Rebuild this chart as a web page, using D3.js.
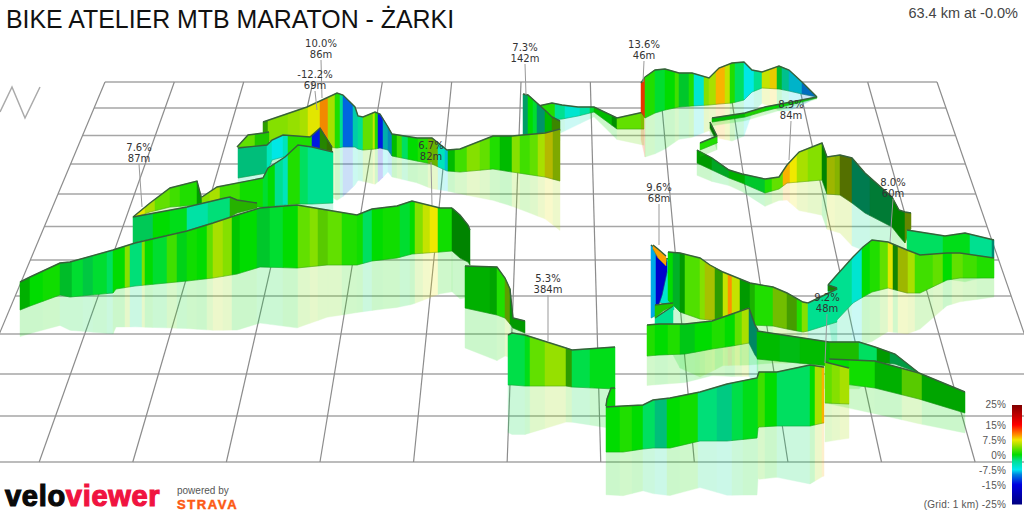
<!DOCTYPE html>
<html><head><meta charset="utf-8">
<script src="https://cdn.jsdelivr.net/npm/d3@7"></script>
<style>html,body{margin:0;padding:0;background:#fff;overflow:hidden}svg{display:block}</style>
</head><body><svg id="c" width="1024" height="512"></svg>
<script>
// ---- text ----
const titleText = "BIKE ATELIER MTB MARATON - ŻARKI";
const summaryText = "63.4 km at -0.0%";
// ---- grid ----
const gridRows = [82,108,135.5,164,194,226.5,260,296,334,374,416,462];
const gridCols = [0,1,2,3,4,5,6,7,8,9,10,11,12];
const zigX = [0,12,25,40], zigY = [112,87,118,87];
// ---- gradient legend ----
const legendTicks = [25,15,7.5,0,-7.5,-15,-25];
const legendLabels = ["25%","15%","7.5%","0%","-7.5%","-15%","(Grid: 1 km) -25%"];
const gradeDomain = [-25,-15,-10,-7.5,-3,0,2.5,5,7.5,10,15,25];
const gradeColours = ["#00007f","#0000e0","#0080e0","#00e8f0","#00e090","#00dc00","#50e000","#a8e000","#f0e800","#ff9000","#ff0000","#7f0000"];
// ---- climb labels ----
const climbGrade = ["10.0%","-12.2%","7.6%","6.7%","7.3%","13.6%","8.9%","8.0%","9.6%","5.3%","9.2%"];
const climbLength = ["86m","69m","87m","82m","142m","46m","84m","60m","68m","384m","48m"];
const climbX = [321,315,139,431,525,644,791,893,659,548,827];
const climbY = [47,78,151,149,51,48,108,186,191,282,301];
const climbEndX = [322,317,142,432,526,643,789,890,659,548,825];
const climbEndY = [98,110,207,205,95,82,160,242,245,341,363];
// ---- ribbons: position along the picture, top edge, base edge, then grade stripes ----
const b1X=[529,552,562,578,594,617,644], b1Top=[108,103,105,107,107,118,112], b1Base=[122,120,119,116,112,129,129];
const b1Stops=[529,555,565,580,590,594,612,617,644], b1Grade=[1,-3,-6,-4,-1,0,0,3], b1Shade=[1,1,1,1,1,.85,.65,1];
const b2X=[523,528,547,552,560], b2Top=[94,95,112,117,121], b2Base=[135,135,135,134,131];
const b2Stops=[523,528,533,537,545,552,560], b2Grade=[-3,0,-1,-4,0,3], b2Shade=[.7,1,1,.65,.85,.6];
const aX=[263,307,337,343,355,358,363,375,380,388,392,417,432,447,460,493,512,545,560];
const aTop=[122,107,93,95,107,116,117,112,114,127,134,138,138,150,149,136,136,133,129];
const aBase=[140,145,148,147,147,149,150,149,148,150,156,161,164,171,172,169,172,177,181];
const aStops=[263,268,288,300,308,320,328,335,340,343,353,358,363,373,375,378,383,388,392,397,402,408,418,428,438,445,448,455,467,480,490,500,512,520,530,538,545,553,560];
const aGrade=[2,4,4.5,5,7,10,5,1,-3,-11,-5,-3,3,6,1,-14,-7,-9,0,2,-2,0,1,4,-5,-8,0,2,4,3,1,0,4,2,3,5,7,5];
const aShade=[.7,1,1,1,1,.95,1,1,1,1,.9,1,1,1,1,1,.75,.8,.85,1,1,1,1,.8,1,.9,.85,1,1,1,1,.85,1,1,1,1,.8,.75];
const c0X=[641,645], c0Top=[83,77], c0Base=[112,118], c0Stops=[641,645], c0Grade=[13], c0Shade=[.9];
const cX=[645,655,665,679,692,709,719,732,744,752,762,779,789,802,817];
const cTop=[77,70,69,73,73,78,68,63,62,70,72,66,70,82,97];
const cBase=[118,113,110,107,106,105,104,103,100,92,88,89,91,94,97];
const cStops=[645,655,665,675,679,689,694,704,709,716,725,730,735,744,754,762,770,777,782,789,802,817];
const cGrade=[1,-1,0,2,-1,1,-6,4,5,9,6,1,-2,-7,-3,6,8,-1,-4,-8,-10];
const cShade=[1,1,1,1,.9,1,1,1,1,1,1,1,1,1,1,1,.95,.85,.85,.85,.85];
const d1X=[712,745,765,817], d1Top=[118,113,107,97], d1Base=[122,117,111,98], d1Stops=[712,745,765,817], d1Grade=[0,1,0], d1Shade=[.85,.95,1];
const d2X=[710,714,717], d2Top=[122,130,136], d2Base=[128,136,143], d2Stops=[710,717], d2Grade=[0], d2Shade=[.55];
const d3X=[700,717], d3Top=[143,136], d3Base=[150,143], d3Stops=[700,717], d3Grade=[1], d3Shade=[1];
const eX=[697,712,729,742,765,779,787,799,822,827,840,852,865,892,899,905,911];
const eTop=[150,158,170,174,179,177,165,152,143,157,155,158,173,197,210,212,213];
const eBase=[163,170,178,183,193,189,183,182,180,194,195,203,213,227,236,243,228];
const eStops=[697,712,729,745,765,772,783,790,797,808,822,827,835,840,852,870,892,905,911];
const eGrade=[0,-1,0,-1,1,3,9,7.5,5,4,0,6,5,5,-3,-2,0,5];
const eShade=[.7,.75,.8,.9,1,1,1,1,1,1,.6,.8,.8,.5,.55,.55,.6,.6];
const fX=[907,945,965,994], fTop=[230,236,233,240], fBase=[258,258,258,258];
const fStops=[907,943,970,992,994], fGrade=[-2,-.5,-3,-5], fShade=[1,1,1,.6];
const gX=[828,835,853,863,872,888,907,920,947,960,994];
const gTop=[285,277,257,247,240,242,250,255,253,253,258];
const gBase=[300,322,303,297,292,288,293,293,280,278,278];
const gStops=[828,852,862,870,880,888,893,898,908,915,933,943,952,963,977,994];
const gGrade=[-3,-6,0,1,3,7,1,6,5,2,3,0,3,2,1], gShade=[1,1,1,1,1,1,.6,.8,1,1,1,1,1,1,1];
const hTealX=[656,674], hTealTop=[260,258], hTealBase=[300,310], hTealStops=[656,674], hTealGrade=[-6], hTealShade=[1];
const hBlueX=[651,655,662,667], hBlueTop=[245,248,255,262], hBlueBase=[318,316,295,272], hBlueStops=[651,656,667], hBlueGrade=[-9,-17], hBlueShade=[1,1];
const hOrangeX=[653,658,666], hOrangeTop=[245,249,256], hOrangeBase=[249,258,266], hOrangeStops=[653,666], hOrangeGrade=[9.5], hOrangeShade=[1];
const h2X=[668,680,700,710,723,750,773,787,803,808];
const h2Top=[252,253,258,265,272,283,287,293,302,303];
const h2Base=[300,312,319,320,320,325,326,329,332,331];
const h2Stops=[668,673,680,685,700,705,715,723,728,732,740,750,755,773,787,797,802,808];
const h2Grade=[0,-1,0,2.5,4,6,2,6,10,6,0,1,1,4,3,1,4], h2Shade=[1,.8,.7,1,1,.85,.7,1,1,1,.7,.8,1,.85,.7,1,1];
const triX=[828,837], triTop=[285,288], triBase=[291,290], triStops=[828,837], triGrade=[1], triShade=[.6];
const tailX=[808,837], tailTop=[303,289], tailBase=[331,322], tailStops=[808,837], tailGrade=[-3], tailShade=[1];
const t1X=[655,663,673], t1Top=[305,304,303], t1Base=[318,311,306], t1Stops=[655,673], t1Grade=[1], t1Shade=[.9];
const t2X=[655,673], t2Top=[318,306], t2Base=[326,325], t2Stops=[655,673], t2Grade=[-3], t2Shade=[1];
const iX=[647,659,685,712,732,749], iTop=[325,324,324,321,314,308], iBase=[356,355,354,349,346,343];
const iStops=[647,655,668,680,695,712,725,735,742,749], iGrade=[1,0,1,-.5,0,1,0,3,5], iShade=[1,1,1,.9,1,1,1,1,1];
const jX=[749,755,758], jTop=[308,325,330], jBase=[343,355,359], jStops=[749,758], jGrade=[-4], jShade=[.6];
const kX=[757,829,859,875,895,919], kTop=[331,342,342,347,354,373], kBase=[359,366,366,362,364,373];
const kStops=[757,780,800,830,859,877,890,919], kGrade=[0,-.5,0,1,-2,0,-2], kShade=[.85,.85,.85,.85,1,.7,.7];
const l2X=[829,875,919,965], l2Top=[359,361,373,392], l2Base=[382,388,399,413];
const l2Stops=[829,849,875,902,922,965], l2Grade=[0,.5,0,3,0], l2Shade=[1,1,.8,.9,.75];
const l1X=[825,849], l1Top=[362,368], l1Base=[403,404], l1Stops=[825,832,840,849], l1Grade=[3,4,5], l1Shade=[1,1,1];
const sTopX=[237,248,263,269], sTopTop=[147,135,133,132], sTopBase=[147,147,148,148], sTopStops=[237,255,269], sTopGrade=[3,1], sTopShade=[1,.9];
const s2X=[238,267,272,283,310,320,332], s2Top=[148,145,140,135,137,128,147], s2Base=[178,173,160,157,155,153,152];
const s2Stops=[238,267,272,283,288,312,320,327,332], s2Grade=[-3,-5,-7,-5,1,-14,2,3], s2Shade=[.85,1,1,1,1,1,.6,.5];
const q0X=[133,150,170,197,202], q0Top=[217,203,188,181,200], q0Base=[218,212,207,205,204];
const q0Stops=[133,145,155,170,180,197,202], q0Grade=[7,5,3,2,1,0], q0Shade=[1,1,1,1,1,.7];
const qX=[202,217,263,268,285,298,312,333], qTop=[197,187,178,168,157,145,147,152], qBase=[204,207,207,207,205,204,204,203];
const qStops=[202,210,220,240,263,268,275,283,288,300,308,333], qGrade=[4,5,2,.5,-1,0,-3,-5,1,-2,-3], qShade=[1,1,1,1,1,1,1,1,1,1,1];
const rX=[133,187,225,230,237,257], rTop=[217,207,198,197,200,203], rBase=[243,231,219,217,213,208];
const rStops=[133,153,170,187,208,230,257], rGrade=[-2,0,-.5,-4,-2.5,1.5], rShade=[.9,1,1,1,1,.8];
const oX=[20,30,60,70,113,116,135,187,213,237,260,297,327,357,372,397,412,440,452];
const oTop=[282,277,263,262,250,249,243,231,223,215,208,205,210,215,209,206,201,208,208];
const oBase=[310,306,295,297,293,289,286,281,278,274,267,268,265,265,261,258,254,252,251];
const oStops=[20,30,43,60,72,83,93,107,113,125,130,142,145,153,167,177,187,197,207,213,223,232,240,257,270,283,298,310,318,328,342,357,363,372,383,400,410,415,423,430,438,452];
const oGrade=[0,0,.5,-1,-1,-1.5,-1,-2,0,4,-2.5,4,0,-1,2,-.5,.5,0,3,5,4,0,0,-1,-1,0,3,4,3,3,1,.5,-2,0,.5,-1,0,4,6,7.5,.5];
const oShade=[.8,1,1,.85,1,.9,1,1,1,1,1,1,1,1,1,.95,1,1,1,1,1,.9,1,.9,1,1,1,1,.9,1,1,1,1,1,1,1,1,1,1,1,1];
const o2X=[452,460,468,470], o2Top=[208,215,225,230], o2Base=[251,258,262,265], o2Stops=[452,470], o2Grade=[0], o2Shade=[.6];
const pX=[465,497,505,510,513,525], pTop=[266,267,278,289,318,321], pBase=[308,315,318,324,328,333];
const pStops=[465,490,497,505,510,525], pGrade=[0,0,1,4,0], pShade=[.8,.75,1,.7,.7];
const nX=[508,512,525,566,572,615], nTop=[335,333,335,348,350,347], nBase=[385,385,386,386,387,389];
const nStops=[508,525,530,545,566,572,590,615], nGrade=[-1.5,-.5,3,4.5,2,-1.5,-.5], nShade=[1,1,1,1,.7,1,1];
const connX=[606,607,611,615], connTop=[406,399,388,388], connBase=[407,407,407,407], connStops=[606,615], connGrade=[0], connShade=[1];
const mX=[606,623,643,653,670,700,727,757,758,759,777,810,823];
const mTop=[407,406,405,400,398,392,384,378,375,372,372,365,367];
const mBase=[452,452,449,448,448,441,441,438,428,427,426,426,423];
const mStops=[606,620,632,643,655,667,680,698,717,732,743,758,765,777,810,815,822,824];
const mGrade=[0,1,0,-2,-3,0,.5,-2.5,-3,-1.5,-.5,2,0,-2,0,5,9], mShade=[1,1,1,1,.85,1,1,1,.9,1,1,1,1,1,1,1,1];

// back to front
const ribbons = [
 [b1X,b1Top,b1Base,b1Stops,b1Grade,b1Shade],[b2X,b2Top,b2Base,b2Stops,b2Grade,b2Shade],[aX,aTop,aBase,aStops,aGrade,aShade],
 [c0X,c0Top,c0Base,c0Stops,c0Grade,c0Shade],[cX,cTop,cBase,cStops,cGrade,cShade],
 [eX,eTop,eBase,eStops,eGrade,eShade],[d1X,d1Top,d1Base,d1Stops,d1Grade,d1Shade],[d2X,d2Top,d2Base,d2Stops,d2Grade,d2Shade],[d3X,d3Top,d3Base,d3Stops,d3Grade,d3Shade],
 [fX,fTop,fBase,fStops,fGrade,fShade],[gX,gTop,gBase,gStops,gGrade,gShade],
 [hTealX,hTealTop,hTealBase,hTealStops,hTealGrade,hTealShade,true],[hBlueX,hBlueTop,hBlueBase,hBlueStops,hBlueGrade,hBlueShade,true],[hOrangeX,hOrangeTop,hOrangeBase,hOrangeStops,hOrangeGrade,hOrangeShade,true],
 [h2X,h2Top,h2Base,h2Stops,h2Grade,h2Shade],[triX,triTop,triBase,triStops,triGrade,triShade,true],[tailX,tailTop,tailBase,tailStops,tailGrade,tailShade],
 [t2X,t2Top,t2Base,t2Stops,t2Grade,t2Shade,true],[t1X,t1Top,t1Base,t1Stops,t1Grade,t1Shade,true],[iX,iTop,iBase,iStops,iGrade,iShade],[jX,jTop,jBase,jStops,jGrade,jShade],
 [kX,kTop,kBase,kStops,kGrade,kShade],[l2X,l2Top,l2Base,l2Stops,l2Grade,l2Shade],[l1X,l1Top,l1Base,l1Stops,l1Grade,l1Shade],
 [sTopX,sTopTop,sTopBase,sTopStops,sTopGrade,sTopShade,true],[s2X,s2Top,s2Base,s2Stops,s2Grade,s2Shade],[q0X,q0Top,q0Base,q0Stops,q0Grade,q0Shade],[qX,qTop,qBase,qStops,qGrade,qShade],[rX,rTop,rBase,rStops,rGrade,rShade,true],
 [oX,oTop,oBase,oStops,oGrade,oShade],[o2X,o2Top,o2Base,o2Stops,o2Grade,o2Shade],[pX,pTop,pBase,pStops,pGrade,pShade],
 [nX,nTop,nBase,nStops,nGrade,nShade],[connX,connTop,connBase,connStops,connGrade,connShade,true],[mX,mTop,mBase,mStops,mGrade,mShade]
];

const svg = d3.select("#c");
const X = d3.scaleLinear([0,1024],[0,1024]);
const Y = d3.scaleLinear([0,512],[0,512]);
const colour = d3.scaleLinear(gradeDomain, gradeColours);
const shaded = (g,s)=>{const c=d3.rgb(colour(g));return d3.rgb(c.r*s,c.g*s,c.b*s).formatHex();};

// grid
const topCol = d3.scaleLinear([0,12],[105,937]);
const botCol = d3.scaleLinear([0,12],[-54.4,1068.7]);
const depth = d3.scaleLinear([82,462],[0,1]);
const colAt = (i,y)=>topCol(i)+(botCol(i)-topCol(i))*depth(y);
const grid = svg.append("g").attr("class","grid");
grid.selectAll(".row").data(gridRows).join("line")
 .attr("x1",r=>X(colAt(0,r))).attr("x2",r=>X(colAt(12,r))).attr("y1",r=>Y(r)).attr("y2",r=>Y(r))
 .attr("stroke","#a6a6a6").attr("stroke-width",1.6);
grid.selectAll(".col").data(gridCols).join("line")
 .attr("x1",i=>X(colAt(i,82))).attr("x2",i=>X(colAt(i,462))).attr("y1",Y(82)).attr("y2",Y(462))
 .attr("stroke","#8c8c8c").attr("stroke-width",1.2);
svg.append("path").attr("d",d3.line().x(d=>X(d[0])).y(d=>Y(d[1]))(d3.zip(zigX,zigY)))
 .attr("fill","none").attr("stroke","#aaa").attr("stroke-width",1.5);

// ribbons
const mirrorRatio = .95;
ribbons.forEach(([xs,top,base,stops,grades,shades,noMirror])=>{
  const t = d3.scaleLinear(xs,top).clamp(true), b = d3.scaleLinear(xs,base).clamp(true);
  const g = svg.append("g");
  const pieces = [];
  grades.forEach((gr,i)=>{
    const x0=stops[i], x1=stops[i+1];
    const px=[x0,...xs.filter(v=>v>x0&&v<x1),x1];
    pieces.push({gr,s:shades[i],px});
  });
  if(!noMirror){
    const m = g.append("g").attr("opacity",.2);
    m.selectAll("path").data(pieces).join("path")
     .attr("d",p=>{
       const up=p.px.map(v=>[X(v),Y(b(v))]);
       const dn=p.px.map(v=>[X(v),Y(b(v)+(b(v)-t(v))*mirrorRatio)]).reverse();
       return "M"+up.concat(dn).join("L")+"Z";})
     .attr("fill",p=>colour(p.gr)).attr("stroke",p=>colour(p.gr)).attr("stroke-width",.4);
  }
  g.selectAll(".stripe").data(pieces).join("path")
   .attr("d",p=>{
     const up=p.px.map(v=>[X(v),Y(t(v))]);
     const dn=p.px.map(v=>[X(v),Y(b(v))]).reverse();
     return "M"+up.concat(dn).join("L")+"Z";})
   .attr("fill",p=>shaded(p.gr,p.s)).attr("stroke",p=>shaded(p.gr,p.s)).attr("stroke-width",.5);
  const xr=[stops[0],...xs.filter(v=>v>stops[0]&&v<stops[stops.length-1]),stops[stops.length-1]];
  g.append("path").attr("d",d3.line().x(v=>X(v)).y(v=>Y(b(v)))(xr)).attr("fill","none").attr("stroke","#1f7a1f").attr("stroke-opacity",.45).attr("stroke-width",.7);
  g.append("path").attr("d",d3.line().x(v=>X(v)).y(v=>Y(t(v)))(xr)).attr("fill","none").attr("stroke","#37613a").attr("stroke-width",1.4);
});

// climb labels
const labels = svg.append("g");
labels.selectAll("line").data(climbGrade).join("line")
 .attr("x1",(d,i)=>X(climbX[i])).attr("y1",(d,i)=>Y(climbY[i]+13)).attr("x2",(d,i)=>X(climbEndX[i])).attr("y2",(d,i)=>Y(climbEndY[i]))
 .attr("stroke","#999").attr("stroke-width",1);
const lab = labels.selectAll("text").data(climbGrade).join("text")
 .attr("font-family","'DejaVu Sans'").attr("font-size",10).attr("fill","#333").attr("text-anchor","middle");
lab.append("tspan").attr("x",(d,i)=>X(climbX[i])).attr("y",(d,i)=>Y(climbY[i])).text(d=>d);
lab.append("tspan").attr("x",(d,i)=>X(climbX[i])).attr("y",(d,i)=>Y(climbY[i]+10.5)).text((d,i)=>climbLength[i]);

// title
svg.append("text").attr("x",6).attr("y",28).attr("font-family","'Liberation Sans'").attr("font-size",24.9).attr("fill","#111").text(titleText);
svg.append("text").attr("x",1018).attr("y",18).attr("text-anchor","end").attr("font-family","'Liberation Sans'").attr("font-size",14.5).attr("fill","#444").text(summaryText);

// legend
const legendY = d3.scaleLinear([25,-25],[405,504.5]);
const defs = svg.append("defs");
const lg = defs.append("linearGradient").attr("id","gr").attr("x1",0).attr("x2",0).attr("y1",0).attr("y2",1);
gradeDomain.slice().reverse().forEach(g=>lg.append("stop").attr("offset",(25-g)/50).attr("stop-color",colour(g)));
svg.append("rect").attr("x",1012).attr("y",legendY(25)).attr("width",10).attr("height",legendY(-25)-legendY(25)).attr("fill","url(#gr)");
svg.selectAll(".lt").data(legendTicks).join("text").attr("class","lt")
 .attr("x",1006).attr("y",(d,i)=>legendY(d)+(i===0?3:i===6?3.5:4)).attr("text-anchor","end")
 .attr("font-family","'Liberation Sans'").attr("font-size",10).attr("letter-spacing",.2).attr("fill","#555")
 .text((d,i)=>legendLabels[i]);

// logos
const logo = svg.append("text").attr("x",5).attr("y",506).attr("font-family","'Liberation Sans'").attr("font-weight","bold").attr("font-size",29).attr("letter-spacing",.7).attr("stroke-width",1.2);
logo.append("tspan").attr("fill","#0a0a0a").attr("stroke","#0a0a0a").text("velo");
logo.append("tspan").attr("fill","#f01440").attr("stroke","#f01440").text("viewer");
svg.append("text").attr("x",177).attr("y",494).attr("font-family","'Liberation Sans'").attr("font-size",10).attr("fill","#555").text("powered by");
svg.append("text").attr("x",177).attr("y",509).attr("font-family","'Liberation Sans'").attr("font-weight","bold").attr("font-size",13).attr("letter-spacing",1.6).attr("fill","#fc5a14").attr("stroke","#fc5a14").attr("stroke-width",.5).text("STRAVA");
</script></body></html>
